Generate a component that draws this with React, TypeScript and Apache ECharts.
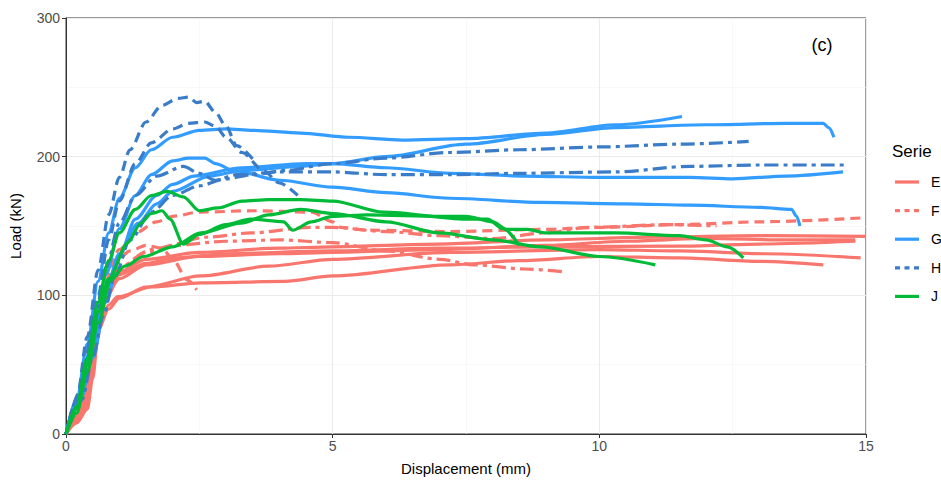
import React, { useEffect, useRef } from "react";
import * as echarts from "echarts";

// ---- data (Displacement mm, Load kN) ----
const E1 = [[0,0],[0.15,8],[0.3,16],[0.4,35],[0.5,65],[0.6,92],[0.8,108],[1.0,117],[1.5,126],[2.5,131],[4.0,134],[5.0,135],[7.0,137],[9.0,140],[11.0,142],[13.0,143],[15.0,142.5]];
const E2 = [[0,0],[0.2,10],[0.35,18],[0.45,40],[0.55,70],[0.7,95],[1.0,112],[1.5,122],[2.5,128],[4.0,130],[5.0,131],[7.0,133],[9.0,136],[10.5,139],[12.0,141],[13.5,140],[14.8,140]];
const E3 = [[0,0],[0.2,12],[0.3,20],[0.42,45],[0.55,80],[0.7,100],[1.0,115],[1.5,123],[2.0,127],[3.0,130],[5.0,132],[7.0,134],[9.0,135],[11.5,135.5],[13.0,137],[14.8,139]];
const E4 = [[0,0],[0.2,10],[0.38,20],[0.5,45],[0.6,75],[0.8,90],[1.0,98],[1.5,106],[2.53,114],[3.8,121],[5.0,126],[7.2,131],[10.0,133],[11.5,132],[13.1,130],[14.9,127]];
const E5 = [[0,0],[0.2,8],[0.4,18],[0.5,40],[0.6,70],[0.65,83],[0.8,93],[0.97,99],[1.6,106],[2.53,109],[4.1,110],[5.0,114],[7.2,122],[8.5,125],[10.0,128],[11.5,127],[13.0,124.5],[14.2,122]];

const F1 = [[0,0],[0.2,12],[0.35,25],[0.45,55],[0.6,95],[0.8,120],[1.0,133],[1.3,145],[1.7,153],[2.0,157],[2.5,160],[3.5,161],[4.6,160],[5.0,153],[5.15,149],[5.65,147],[7.2,146],[8.9,147.5],[10.0,149],[11.5,151],[13.0,153],[15.0,156]];
const F2 = [[0,0],[0.2,10],[0.35,20],[0.5,55],[0.65,90],[0.8,108],[1.0,120],[1.5,131],[2.0,136],[3.0,139],[4.0,140],[5.0,138],[6.0,132],[7.0,126],[7.65,122],[8.6,119],[9.33,117]];
const F3 = [[0,0],[0.2,12],[0.35,25],[0.5,70],[0.7,105],[0.9,122],[1.2,132],[1.5,136],[1.8,134],[2.0,126],[2.28,111],[2.45,104]];
const F4 = [[0,0],[0.2,12],[0.4,30],[0.55,75],[0.75,105],[1.0,120],[1.6,133],[2.66,142],[3.46,145],[4.6,149],[5.0,149],[6.0,146],[7.0,143],[8.0,141],[9.0,145],[9.8,149],[11.3,151],[12.2,150]];

const G1 = [[0,0],[0.2,25],[0.4,65],[0.6,110],[0.8,145],[1.0,170],[1.3,192],[1.6,205],[2.0,214],[2.5,219],[3.0,220],[3.5,219],[4.4,217],[5.3,214],[6.3,212],[7.5,213],[9.0,217],[10.3,223],[11.55,229]];
const G2 = [[0,0],[0.25,25],[0.5,65],[0.75,105],[1.0,130],[1.35,152],[1.7,166],[2.0,175],[2.7,186],[3.3,190],[4.4,193],[5.0,195],[6.0,200],[7.5,209],[9.0,216],[10.3,221],[12.0,223],[13.5,224],[14.2,224],[14.3,221],[14.4,214]];
const G3 = [[0,0],[0.25,28],[0.5,70],[0.75,115],[1.0,148],[1.3,172],[1.6,187],[2.0,197],[2.3,199],[2.6,199],[2.8,195],[3.15,190],[4.0,183],[5.0,178],[6.0,174],[7.2,170],[8.9,167],[10.5,166],[11.7,165],[13.0,163.5],[13.6,162],[13.7,157],[13.76,150]];
const G4 = [[0,0],[0.25,22],[0.5,55],[0.75,95],[1.0,128],[1.3,155],[1.7,172],[2.0,180],[2.4,186],[3.3,192],[4.5,195],[5.0,195],[6.0,192],[7.2,188],[8.6,186],[10.0,185],[11.7,185],[12.5,184],[13.5,186],[14.57,189]];

const H1 = [[0,0],[0.2,25],[0.4,70],[0.6,118],[0.8,158],[1.0,185],[1.2,205],[1.5,225],[1.8,237],[2.1,242],[2.3,243],[2.45,239],[2.6,240],[2.8,232],[3.0,222],[3.2,208],[3.55,196]];
const H2 = [[0,0],[0.2,20],[0.4,55],[0.6,100],[0.8,140],[1.0,168],[1.3,195],[1.6,210],[2.0,220],[2.3,224],[2.6,225],[2.8,222],[3.0,214],[3.3,203],[3.7,190],[4.0,181],[4.4,170]];
const H3 = [[0,0],[0.3,25],[0.5,55],[0.7,85],[0.9,112],[1.2,140],[1.6,160],[2.0,172],[2.5,179],[3.0,184],[3.5,187],[4.1,190],[5.0,195],[6.0,199],[7.2,203],[8.5,205],[10.0,207],[11.5,209],[12.8,211]];
const H4 = [[0,0],[0.25,30],[0.5,75],[0.75,120],[1.0,152],[1.3,172],[1.7,186],[2.2,193],[2.5,188],[2.8,183],[3.2,187],[4.0,189],[5.0,189],[6.0,187],[7.2,187],[8.5,188],[10.3,189],[11.7,193],[13.0,194],[14.6,194]];

const J1 = [[0,0],[0.2,20],[0.4,55],[0.6,95],[0.8,125],[1.0,145],[1.3,162],[1.6,172],[1.9,175],[2.2,171],[2.5,161],[2.85,163],[3.3,168],[3.8,169],[4.4,169],[5.0,168],[5.95,160],[7.5,155],[7.9,155],[8.2,148],[8.5,136]];
const J2 = [[0,0],[0.2,18],[0.4,50],[0.6,88],[0.8,112],[1.16,138],[1.4,152],[1.6,159],[1.8,161],[1.95,155],[2.2,137],[2.5,144],[3.0,151],[3.46,155],[4.08,153],[4.25,147],[4.6,153],[5.0,157],[5.65,158],[7.0,157],[7.5,157],[8.0,153],[8.27,147.5],[8.65,147.5],[9.0,145],[10.3,145],[11.5,143],[12.0,140],[12.4,135],[12.7,127]];
const J3 = [[0,0],[0.2,15],[0.4,45],[0.6,80],[0.84,111],[1.1,121],[1.46,128],[2.0,135],[2.53,145],[3.28,152],[3.8,158],[4.4,162],[5.0,159],[6.0,153],[7.0,145],[8.0,140],[8.9,135],[10.0,128],[11.05,122]];

const serieNames = ["E", "F", "G", "H", "J"];
const serieColors = ["#F8766D", "#F8766D", "#339CFF", "#3A7CC8", "#00BA38"];
const xTicks = [0, 5, 10, 15];
const yTicks = [0, 100, 200, 300];

const SOLID = "solid";
const DASH = [10, 6];
const DASHDOT = [14, 5, 4, 5];

const curves: { serie: number; data: number[][]; dash: any }[] = [
  { serie: 0, data: E1, dash: SOLID },
  { serie: 0, data: E2, dash: SOLID },
  { serie: 0, data: E3, dash: SOLID },
  { serie: 0, data: E4, dash: SOLID },
  { serie: 0, data: E5, dash: SOLID },
  { serie: 1, data: F1, dash: DASH },
  { serie: 1, data: F2, dash: DASHDOT },
  { serie: 1, data: F3, dash: DASH },
  { serie: 1, data: F4, dash: DASHDOT },
  { serie: 2, data: G1, dash: SOLID },
  { serie: 2, data: G2, dash: SOLID },
  { serie: 2, data: G3, dash: SOLID },
  { serie: 2, data: G4, dash: SOLID },
  { serie: 3, data: H1, dash: DASH },
  { serie: 3, data: H2, dash: DASH },
  { serie: 3, data: H3, dash: DASHDOT },
  { serie: 3, data: H4, dash: DASHDOT },
  { serie: 4, data: J1, dash: SOLID },
  { serie: 4, data: J2, dash: SOLID },
  { serie: 4, data: J3, dash: SOLID },
];

const FONT = "'Liberation Sans', Arial, sans-serif";

export default function App() {
  const ref = useRef<HTMLDivElement>(null);
  useEffect(() => {
    if (!ref.current) return;
    const chart = echarts.init(ref.current, undefined, { renderer: "svg" });

    const series = curves.map((c) => ({
      type: "line",
      name: serieNames[c.serie],
      data: c.data,
      showSymbol: false,
      symbol: "none",
      smooth: 0.3,
      smoothMonotone: "x",
      lineStyle: { color: serieColors[c.serie], width: 3.2, type: c.dash, cap: "butt", join: "round" },
      emphasis: { disabled: true },
      silent: true,
    }));

    const legendY0 = 182;
    const legendStep = 28.6;
    const legendItems: any[] = [];
    serieNames.forEach((n, i) => {
      const y = legendY0 + i * legendStep;
      const dashed = i === 1 || i === 3;
      legendItems.push({
        type: "line",
        shape: { x1: 895, y1: y, x2: 919, y2: y },
        style: { stroke: serieColors[i], lineWidth: 3.2, lineDash: dashed ? [5, 4.5] : null },
      });
      legendItems.push({
        type: "text",
        x: 931,
        y: y,
        style: { text: n, fill: "#000", font: `14px ${FONT}`, textVerticalAlign: "middle", verticalAlign: "middle" },
      });
    });

    chart.setOption({
      animation: false,
      backgroundColor: "#fff",
      grid: { left: 65, right: 75, top: 18, bottom: 46, show: true, borderColor: "#333", borderWidth: 1, backgroundColor: "transparent" },
      xAxis: {
        type: "value",
        min: xTicks[0],
        max: xTicks[xTicks.length - 1],
        interval: 5,
        name: "Displacement (mm)",
        nameLocation: "middle",
        nameGap: 27,
        nameTextStyle: { color: "#000", fontSize: 15, fontFamily: FONT },
        axisLine: { show: true, lineStyle: { color: "#333", width: 1 } },
        axisTick: { show: true, length: 4, lineStyle: { color: "#333" } },
        axisLabel: { color: "#4D4D4D", fontSize: 14, fontFamily: FONT, margin: 5 },
        splitLine: { show: true, lineStyle: { color: "#EBEBEB", width: 1.1 } },
        minorTick: { show: false, splitNumber: 2 },
        minorSplitLine: { show: true, lineStyle: { color: "#F4F4F4", width: 0.6 } },
      },
      yAxis: {
        type: "value",
        min: yTicks[0],
        max: yTicks[yTicks.length - 1],
        interval: 100,
        name: "Load (kN)",
        nameLocation: "middle",
        nameGap: 43,
        nameRotate: 90,
        nameTextStyle: { color: "#000", fontSize: 15, fontFamily: FONT },
        axisLine: { show: true, lineStyle: { color: "#333", width: 1 } },
        axisTick: { show: true, length: 4, lineStyle: { color: "#333" } },
        axisLabel: { color: "#4D4D4D", fontSize: 14, fontFamily: FONT, margin: 6 },
        splitLine: { show: true, lineStyle: { color: "#EBEBEB", width: 1.1 } },
        minorTick: { show: false, splitNumber: 2 },
        minorSplitLine: { show: true, lineStyle: { color: "#F4F4F4", width: 0.6 } },
      },
      series,
      graphic: [
        {
          type: "text",
          x: 822,
          y: 45,
          style: { text: "(c)", fill: "#000", font: `18px ${FONT}`, textAlign: "center", textVerticalAlign: "middle", align: "center", verticalAlign: "middle" },
        },
        {
          type: "text",
          x: 892,
          y: 151,
          style: { text: "Serie", fill: "#000", font: `17px ${FONT}`, textVerticalAlign: "middle", verticalAlign: "middle" },
        },
        ...legendItems,
      ],
    });
    return () => chart.dispose();
  }, []);
  return <div ref={ref} style={{ position: "fixed", left: 0, top: 0, width: 941, height: 481 }} />;
}
